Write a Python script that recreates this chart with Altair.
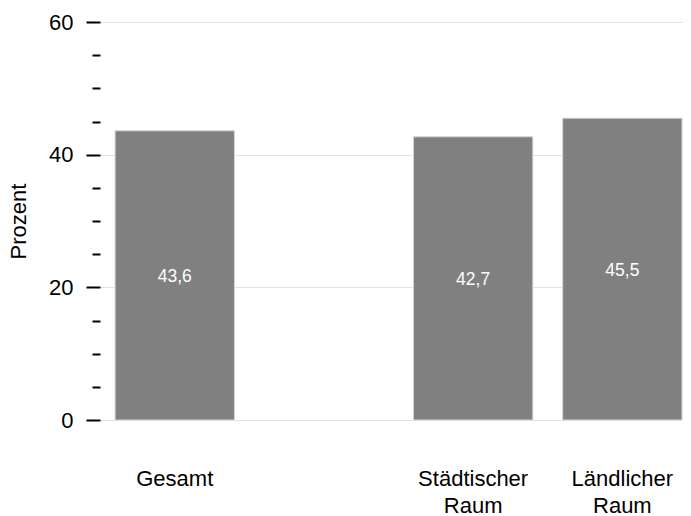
import altair as alt
import pandas as pd

categories = ["Gesamt", " ", "Städtischer Raum", "Ländlicher Raum"]
bar_categories = ["Gesamt", "Städtischer Raum", "Ländlicher Raum"]
values = [43.6, 42.7, 45.5]
value_labels = ["43,6", "42,7", "45,5"]
major_ticks = [0, 20, 40, 60]
minor_ticks = [5, 10, 15, 25, 30, 35, 45, 50, 55]

df = pd.DataFrame({
    "cat": bar_categories,
    "val": values,
    "mid": [v / 2 for v in values],
    "lab": value_labels,
})

FONT = "Liberation Sans"

x_axis = alt.Axis(
    title=None, ticks=False, domain=False, labelAngle=0,
    labelFont=FONT, labelFontSize=22, labelColor="#000000",
    labelPadding=48, labelLineHeight=27, labelBaseline="top",
    labelExpr="split(datum.label, ' ')",
)
x_scale = alt.Scale(domain=categories, paddingInner=0.2, paddingOuter=0.0537, align=0.94)

bars = alt.Chart(df).mark_bar(color="#808080", stroke="#d6d6d6", strokeWidth=1).encode(
    x=alt.X("cat:N", scale=x_scale, axis=x_axis, sort=categories),
    y=alt.Y("val:Q", scale=alt.Scale(domain=[0, 60], nice=False),
            axis=alt.Axis(
                title="Prozent", titleFont=FONT, titleFontSize=22, titleFontWeight="normal",
                titleColor="#000000", titlePadding=18,
                values=major_ticks, tickSize=14, tickWidth=2, tickColor="#000000",
                labelFont=FONT, labelFontSize=22, labelColor="#000000", labelPadding=13,
                domain=False, grid=True, gridColor="#e3e3e3", gridWidth=1, orient="left",
            )),
)

text = alt.Chart(df).mark_text(color="#ffffff", font=FONT, fontSize=17.5, baseline="middle", dy=2).encode(
    x=alt.X("cat:N", scale=x_scale, axis=x_axis, sort=categories),
    y=alt.Y("mid:Q", scale=alt.Scale(domain=[0, 60], nice=False),
            axis=alt.Axis(
                title=None, values=minor_ticks, tickSize=8, tickWidth=2, tickColor="#000000",
                labels=False, domain=False, grid=False, orient="left",
            )),
    text="lab:N",
)

chart = alt.layer(bars, text).resolve_scale(y="independent").properties(
    width=583, height=398,
    autosize=alt.AutoSizeParams(type="none"),
    padding={"left": 92, "top": 14, "right": 0, "bottom": 98},
).configure_view(stroke=None)

chart.save("out.html", embed_options={"renderer": "svg", "actions": False})
